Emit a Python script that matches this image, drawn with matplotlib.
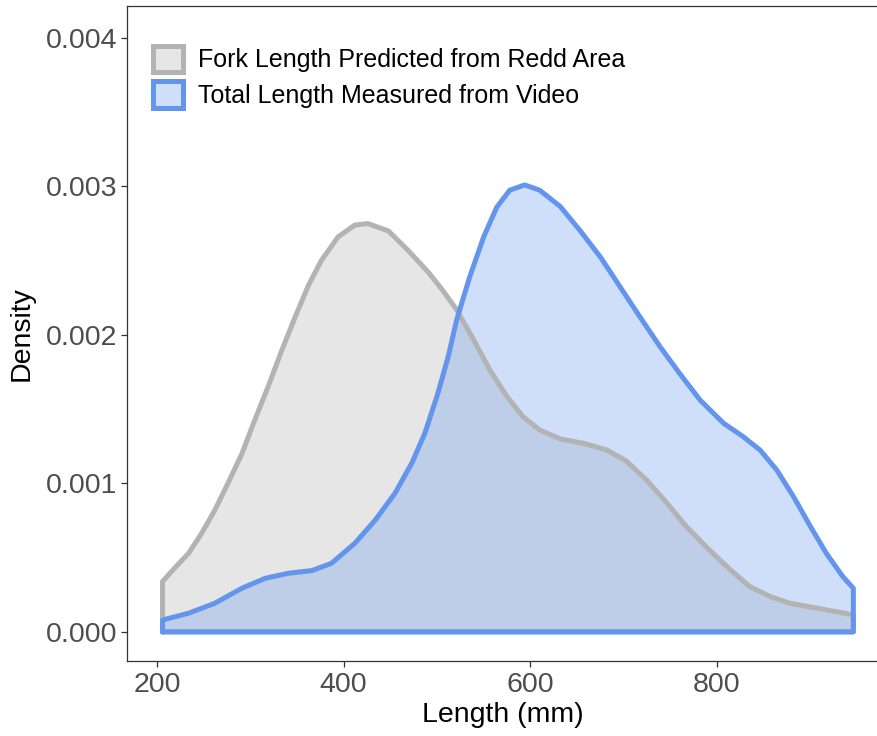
import matplotlib
matplotlib.use("Agg")
from matplotlib import pyplot as plt
from matplotlib.patches import Patch

plt.rcParams['font.family'] = ['Liberation Sans', 'DejaVu Sans']

# density curves (length in mm, density)
fork_x = [206, 219, 234, 248, 262, 276, 291, 305, 319, 334, 348, 362, 376, 394,
          412, 426, 448, 469, 491, 505, 521, 539, 557, 575, 592, 610, 632, 657,
          682, 703, 725, 746, 767, 792, 814, 835, 857, 878, 907, 946]
fork_y = [0.00034, 0.00043, 0.00053, 0.000665, 0.00082, 0.00100, 0.00120, 0.00143,
          0.00165, 0.00190, 0.00212, 0.00233, 0.00250, 0.00266, 0.00274, 0.00275,
          0.00270, 0.00257, 0.00242, 0.00231, 0.00217, 0.00197, 0.00176, 0.001585,
          0.00145, 0.00136, 0.00130, 0.00127, 0.001225, 0.00115, 0.00102, 0.00087,
          0.00071, 0.00055, 0.00042, 0.000305, 0.000238, 0.000193, 0.00016, 0.000115]

video_x = [206, 234, 262, 291, 316, 341, 366, 387, 412, 434, 455, 473, 487, 501,
           512, 521, 535, 550, 564, 578, 594, 610, 632, 653, 675, 696, 717, 739,
           760, 782, 807, 828, 846, 864, 882, 900, 917, 935, 946]
video_y = [0.00008, 0.000126, 0.000193, 0.000294, 0.000361, 0.000395, 0.000413,
           0.000462, 0.000597, 0.000754, 0.000934, 0.001136, 0.001338, 0.001607,
           0.001854, 0.00210, 0.00239, 0.00266, 0.00286, 0.002975, 0.00301, 0.002975,
           0.002865, 0.002705, 0.002525, 0.002325, 0.002125, 0.00192, 0.00174,
           0.00156, 0.001405, 0.001315, 0.001225, 0.00109, 0.00091, 0.00071, 0.00053,
           0.00037, 0.000294]

labels = ['Fork Length Predicted from Redd Area', 'Total Length Measured from Video']
fills = ['#E6E6E6', (100/255, 149/255, 237/255, 0.3)]
edges = ['#B3B3B3', '#6495ED']

fig = plt.figure(figsize=(8.78, 7.36), dpi=100)
ax = fig.add_axes([0.1446, 0.1019, 0.8554, 0.8899])

for xs, ys, fc, ec in [(fork_x, fork_y, fills[0], edges[0]),
                       (video_x, video_y, fills[1], edges[1])]:
    px = [xs[0]] + xs + [xs[-1]]
    py = [0] + ys + [0]
    ax.fill(px, py, facecolor=fc, edgecolor='none')
    ax.plot(px + [xs[0]], py + [0], color=ec, lw=3.6,
            solid_joinstyle='round', solid_capstyle='round')

ax.set_xlim(167.9, 972.4)
ax.set_ylim(-0.000196, 0.004215)
ax.set_xticks([200, 400, 600, 800])
ax.set_yticks([0, 0.001, 0.002, 0.003, 0.004])
ax.set_yticklabels(['0.000', '0.001', '0.002', '0.003', '0.004'])

ax.spines['right'].set_visible(False)
for s in ['left', 'bottom', 'top']:
    ax.spines[s].set_color('#333333')
    ax.spines[s].set_linewidth(0.9)
ax.tick_params(axis='both', length=4, width=0.9, color='#333333',
               labelcolor='#4D4D4D', labelsize=20.5)
ax.tick_params(axis='y', pad=3)
ax.tick_params(axis='x', pad=4)

ax.set_xlabel('Length (mm)', fontsize=20.5, labelpad=3)
ax.set_ylabel('Density', fontsize=20.5, labelpad=8)

handles = [Patch(facecolor=fills[i], edgecolor=edges[i], linewidth=3.6)
           for i in range(2)]
ax.legend(handles, labels, loc='upper left', bbox_to_anchor=(0.022, 0.955),
          frameon=False, fontsize=18, handlelength=1.2, handleheight=1.25,
          handletextpad=0.6, labelspacing=0.36, borderaxespad=0)

fig.savefig('out.png', dpi=100)
plt.close(fig)
